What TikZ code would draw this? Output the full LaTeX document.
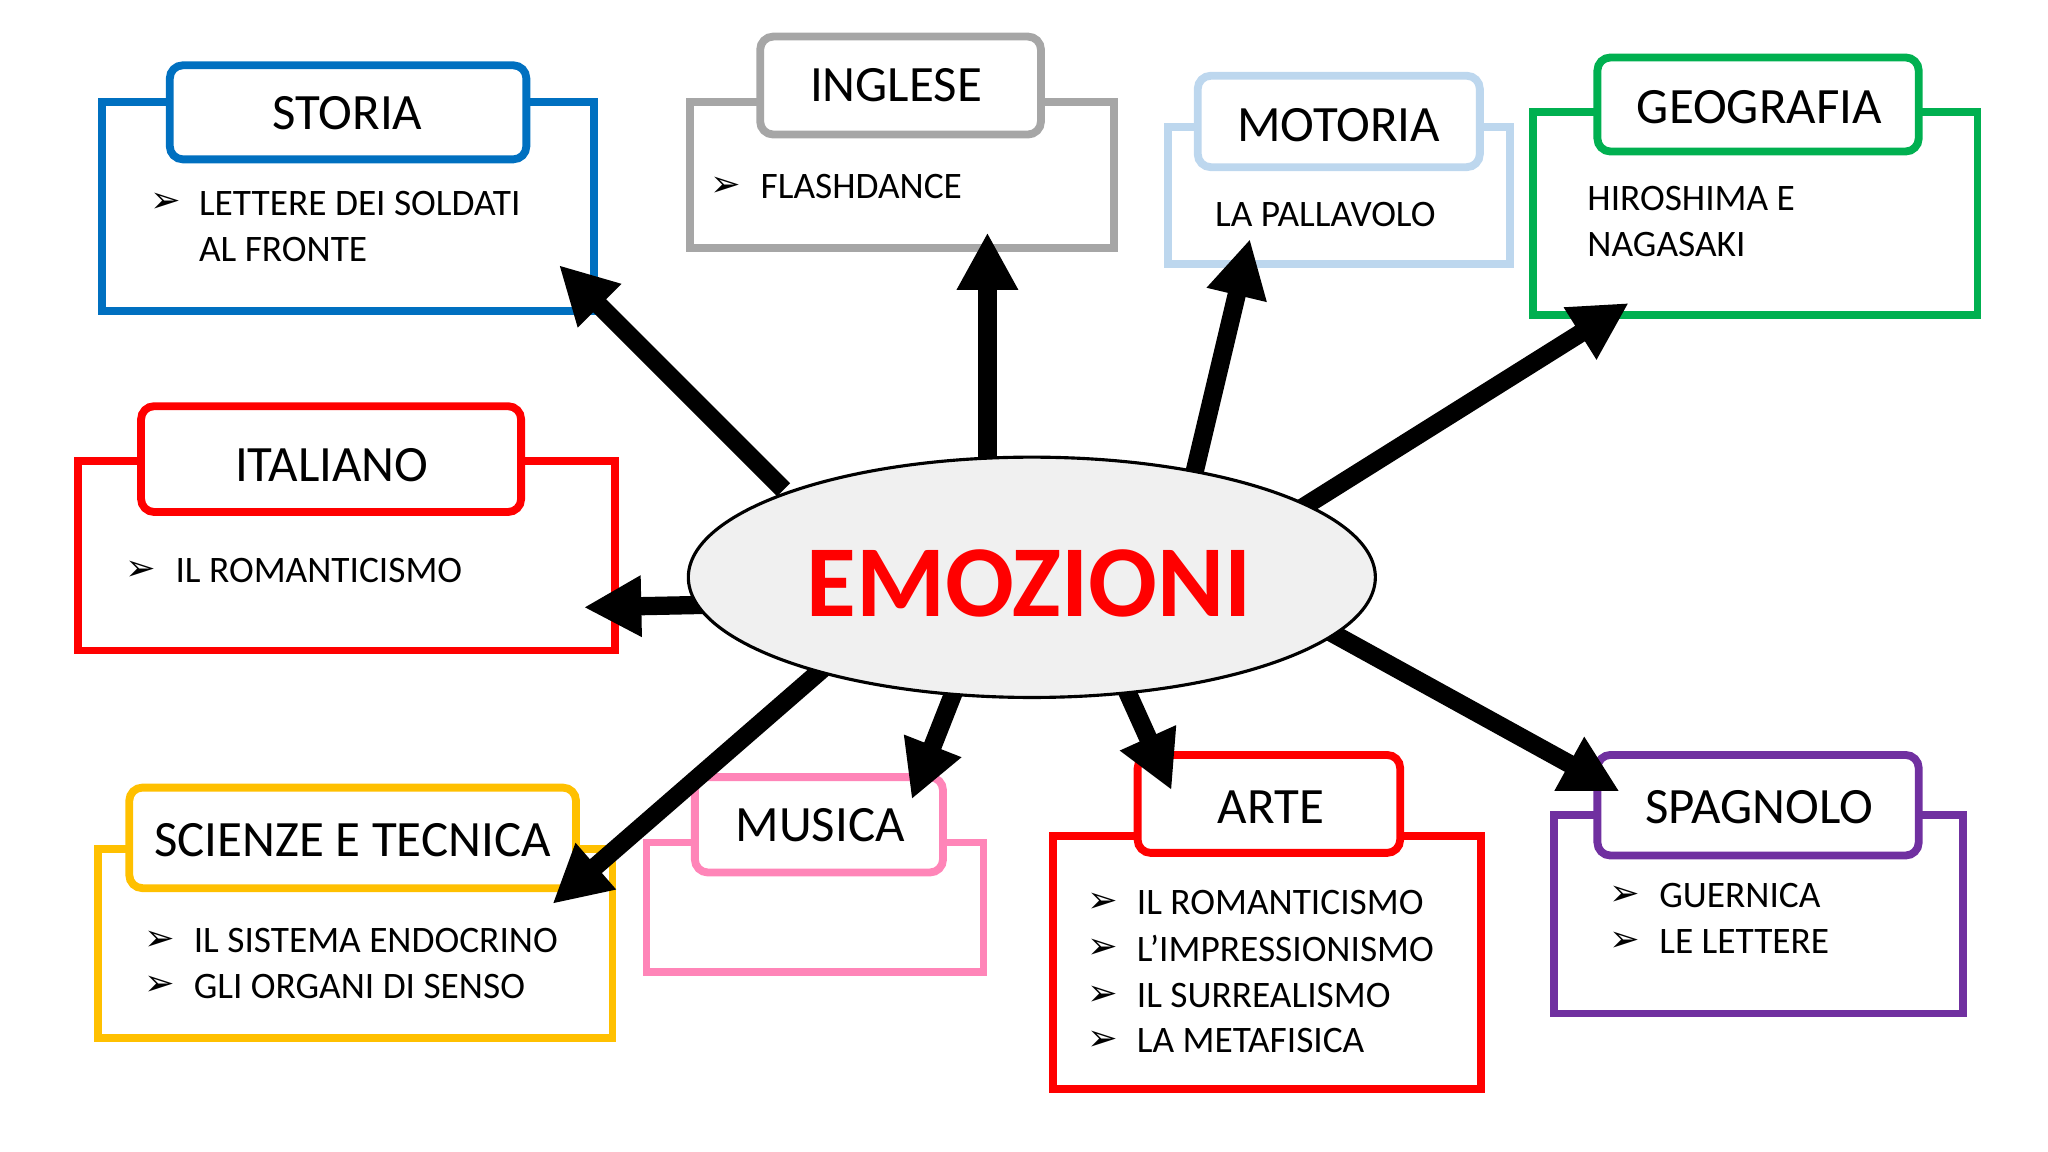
\documentclass[tikz,border=0pt]{standalone}
\usepackage{fontspec}
\setmainfont{Carlito}
\newfontfamily\dejavu{DejaVu Sans}
\usetikzlibrary{arrows.meta,shapes.geometric}
\definecolor{cblue}{HTML}{0070C0}
\definecolor{cgray}{HTML}{A6A6A6}
\definecolor{clblue}{HTML}{BDD7EE}
\definecolor{cgreen}{HTML}{00B050}
\definecolor{cred}{HTML}{FF0000}
\definecolor{cgold}{HTML}{FFC000}
\definecolor{cpink}{HTML}{FF85B8}
\definecolor{cpurple}{HTML}{7030A0}
\tikzset{
  outer/.style={line width=3pt},
  tab/.style={line width=3pt,fill=white,rounded corners=5pt},
  ttl/.style={font=\fontsize{19.5}{22}\selectfont},
  itm/.style={font=\fontsize{14.3}{16}\selectfont,anchor=west,inner sep=0pt},
  bul/.style={font=\dejavu\fontsize{14}{16}\selectfont,inner sep=0pt},
  big/.style={line width=7pt,-{Triangle[length=22pt,width=22pt]},draw=black}
}
\begin{document}
\begin{tikzpicture}[x=0.5pt,y=-0.5pt]
\useasboundingbox (0,0) rectangle (1568,882);
% STORIA
\draw[outer,draw=cblue] (78,78) rectangle (455,238);
\draw[tab,draw=cblue] (130,50) rectangle (403,122);
\node[ttl] (t1) at (266,87) {STORIA};
\node[bul] (b1) at (127,155) {➢};
\node[itm] (i1a) at (152,156) {LETTERE DEI SOLDATI};
\node[itm] (i1b) at (152,191) {AL FRONTE};
% INGLESE
\draw[outer,draw=cgray] (528,78) rectangle (853,190);
\draw[tab,draw=cgray] (582,28) rectangle (797,103);
\node[ttl] (t2) at (686,65) {INGLESE};
\node[bul] (b2) at (556,143) {➢};
\node[itm] (i2) at (582,143) {FLASHDANCE};
% MOTORIA
\draw[outer,draw=clblue] (894,97) rectangle (1156,202);
\draw[tab,draw=clblue] (917,58) rectangle (1133,128);
\node[ttl] (t3) at (1025,96) {MOTORIA};
\node[itm] (i3) at (930,164) {LA PALLAVOLO};
% GEOGRAFIA
\draw[outer,draw=cgreen] (1174,86) rectangle (1514,241);
\draw[tab,draw=cgreen] (1223,44) rectangle (1469,116);
\node[ttl] (t4) at (1347,82) {GEOGRAFIA};
\node[itm] (i4a) at (1215,152) {HIROSHIMA E};
\node[itm] (i4b) at (1215,187) {NAGASAKI};
% ITALIANO
\draw[outer,draw=cred] (60,353) rectangle (471,498);
\draw[tab,draw=cred] (108,311) rectangle (399,392);
\node[ttl] (t5) at (254,356) {ITALIANO};
\node[bul] (b5) at (108,437) {➢};
\node[itm] (i5) at (134,437) {IL ROMANTICISMO};
% SCIENZE
\draw[outer,draw=cgold] (75,650) rectangle (469,795);
\draw[tab,draw=cgold] (99,603) rectangle (441,680);
\node[ttl] (t6) at (270,643) {SCIENZE E TECNICA};
\node[bul] (b6a) at (122,720) {➢};
\node[bul] (b6b) at (122,755) {➢};
\node[itm] (i6a) at (148,720) {IL SISTEMA ENDOCRINO};
\node[itm] (i6b) at (148,755) {GLI ORGANI DI SENSO};
% MUSICA
\draw[outer,draw=cpink] (495,645) rectangle (753,744);
\draw[tab,draw=cpink] (532,595) rectangle (722,668);
\node[ttl] (t7) at (628,632) {MUSICA};
% ARTE
\draw[outer,draw=cred] (806,640) rectangle (1134,834);
\draw[tab,draw=cred] (871,578) rectangle (1072,653);
\node[ttl] (t8) at (973,618) {ARTE};
\foreach \y/\n in {691/a,726/b,762/c,797/d}{\node[bul] (b8\n) at (844,\y) {➢};}
\node[itm] (i8a) at (870,691) {IL ROMANTICISMO};
\node[itm] (i8b) at (870,726) {L’IMPRESSIONISMO};
\node[itm] (i8c) at (870,762) {IL SURREALISMO};
\node[itm] (i8d) at (870,797) {LA METAFISICA};
% SPAGNOLO
\draw[outer,draw=cpurple] (1190,624) rectangle (1503,776);
\draw[tab,draw=cpurple] (1223,578) rectangle (1469,655);
\node[ttl] (t9) at (1347,618) {SPAGNOLO};
\node[bul] (b9a) at (1244,686) {➢};
\node[bul] (b9b) at (1244,721) {➢};
\node[itm] (i9a) at (1270,686) {GUERNICA};
\node[itm] (i9b) at (1270,721) {LE LETTERE};
% arrows
\coordinate (s1) at (600,375); \coordinate (e1) at (428,203);
\coordinate (s2) at (756,360); \coordinate (e2) at (756,178);
\coordinate (s3) at (913,368); \coordinate (e3) at (957,183);
\coordinate (s4) at (995,390); \coordinate (e4) at (1247,232);
\coordinate (s5) at (545,463); \coordinate (e5) at (447,465);
\coordinate (s6) at (630,512); \coordinate (e6) at (423,692);
\coordinate (s7) at (733,523); \coordinate (e7) at (698,612);
\coordinate (s8) at (860,523); \coordinate (e8) at (897,605);
\coordinate (s9) at (1015,482); \coordinate (e9) at (1240,606);
\foreach \i in {1,...,9}{\draw[big] (s\i) -- (e\i);}
% center
\node[ellipse,draw=black,line width=1.2pt,fill=gray!12,minimum width=263pt,minimum height=92pt,inner sep=0pt] (e) at (790,442) {};
\node[text=cred,font=\fontsize{39}{44}\bfseries\selectfont] (et) at (788,447) {EMOZIONI};
\end{tikzpicture}
\end{document}
